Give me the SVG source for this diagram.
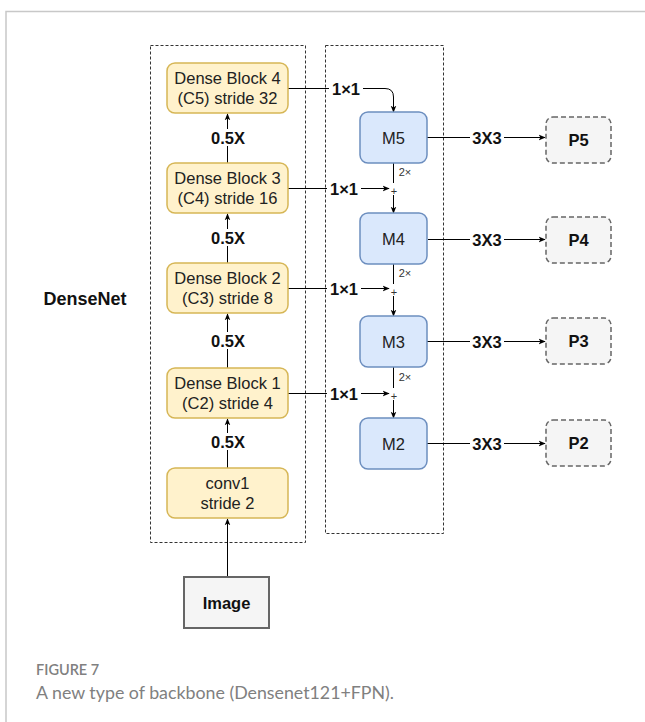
<svg xmlns="http://www.w3.org/2000/svg" width="645" height="722" viewBox="0 0 645 722">
  <defs>
    <marker id="arr" viewBox="0 0 10 10" refX="9" refY="5" markerWidth="7" markerHeight="7" orient="auto" markerUnits="userSpaceOnUse">
      <path d="M0,1 L10,5 L0,9 L2.5,5 Z" fill="#000"/>
    </marker>
  </defs>
  <style>
    .frame { stroke: #c8c8c8; stroke-width: 1.5; fill: none; }
    .group { fill: none; stroke: #333; stroke-width: 1; stroke-dasharray: 3 2; }
    .dense { fill: #fff2cc; stroke: #d6b656; stroke-width: 1.5; }
    .fpn { fill: #dae8fc; stroke: #6c8ebf; stroke-width: 1.5; }
    .out { fill: #f5f5f5; stroke: #666; stroke-width: 1.5; stroke-dasharray: 5 3; }
    .img { fill: #f5f5f5; stroke: #666; stroke-width: 2; }
    .t { font-family: "Liberation Sans", Arial, sans-serif; font-size: 16.5px; fill: #222; text-anchor: middle; }
    .b { font-family: "Liberation Sans", Arial, sans-serif; font-size: 16.5px; font-weight: bold; fill: #111; text-anchor: middle; }
    .s { font-family: "Liberation Sans", Arial, sans-serif; font-size: 11px; fill: #333; text-anchor: middle; }
    .edge { stroke: #000; stroke-width: 1; fill: none; }
    .lbl { fill: #fff; }
    .cap1 { font-family: Lato, "Open Sans", sans-serif; font-size: 14.5px; font-weight: 600; fill: #808080; }
    .cap2 { font-family: Lato, "Open Sans", sans-serif; font-size: 17.8px; fill: #808080; }
  </style>

  <!-- page frame -->
  <path class="frame" d="M645,11.5 H6 V722"/>

  <!-- dashed grouping boxes -->
  <rect class="group" x="150.5" y="45.5" width="155" height="497"/>
  <rect class="group" x="325.5" y="45.5" width="118" height="488"/>

  <text class="b" x="85" y="305" style="font-size:18px">DenseNet</text>

  <!-- connectors -->
  <g id="connectors">
    <!-- backbone up path -->
    <line class="edge" x1="227.5" y1="577" x2="227.5" y2="519" marker-end="url(#arr)"/>
    <line class="edge" x1="227.5" y1="468" x2="227.5" y2="419" marker-end="url(#arr)"/>
    <line class="edge" x1="227.5" y1="368" x2="227.5" y2="314" marker-end="url(#arr)"/>
    <line class="edge" x1="227.5" y1="263" x2="227.5" y2="214" marker-end="url(#arr)"/>
    <line class="edge" x1="227.5" y1="163" x2="227.5" y2="114" marker-end="url(#arr)"/>

    <!-- lateral 1x1 -->
    <path class="edge" d="M288,88.5 H385 Q393.5,88.5 393.5,97 V112" marker-end="url(#arr)"/>
    <line class="edge" x1="288" y1="188.5" x2="389" y2="188.5" marker-end="url(#arr)"/>
    <line class="edge" x1="288" y1="288.5" x2="389" y2="288.5" marker-end="url(#arr)"/>
    <line class="edge" x1="288" y1="393.5" x2="389" y2="393.5" marker-end="url(#arr)"/>

    <!-- top-down 2x upsample -->
    <line class="edge" x1="393.5" y1="163" x2="393.5" y2="183"/>
    <line class="edge" x1="393.5" y1="195" x2="393.5" y2="213" marker-end="url(#arr)"/>
    <line class="edge" x1="393.5" y1="264" x2="393.5" y2="284"/>
    <line class="edge" x1="393.5" y1="296" x2="393.5" y2="316" marker-end="url(#arr)"/>
    <line class="edge" x1="393.5" y1="367" x2="393.5" y2="388"/>
    <line class="edge" x1="393.5" y1="400" x2="393.5" y2="418" marker-end="url(#arr)"/>

    <!-- 3x3 outputs -->
    <line class="edge" x1="427" y1="137.5" x2="545" y2="137.5" marker-end="url(#arr)"/>
    <line class="edge" x1="428" y1="239.5" x2="545" y2="239.5" marker-end="url(#arr)"/>
    <line class="edge" x1="427" y1="341.5" x2="545" y2="341.5" marker-end="url(#arr)"/>
    <line class="edge" x1="427" y1="443.5" x2="545" y2="443.5" marker-end="url(#arr)"/>

    <!-- edge labels -->
    <rect class="lbl" x="210" y="129" width="36" height="17"/>
    <text class="b" x="228" y="143.5">0.5X</text>
    <rect class="lbl" x="210" y="229" width="36" height="17"/>
    <text class="b" x="228" y="243.5">0.5X</text>
    <rect class="lbl" x="210" y="332" width="36" height="17"/>
    <text class="b" x="228" y="346.5">0.5X</text>
    <rect class="lbl" x="210" y="433" width="36" height="17"/>
    <text class="b" x="228" y="447.5">0.5X</text>

    <rect class="lbl" x="329" y="80" width="34" height="17"/>
    <text class="b" x="346" y="94.5">1×1</text>
    <rect class="lbl" x="327" y="180" width="34" height="17"/>
    <text class="b" x="344" y="194.5">1×1</text>
    <rect class="lbl" x="327" y="280" width="34" height="17"/>
    <text class="b" x="344" y="294.5">1×1</text>
    <rect class="lbl" x="327" y="385" width="34" height="17"/>
    <text class="b" x="344" y="399.5">1×1</text>

    <rect class="lbl" x="470" y="129" width="34" height="17"/>
    <text class="b" x="487" y="143.5">3X3</text>
    <rect class="lbl" x="470" y="231" width="34" height="17"/>
    <text class="b" x="487" y="245.5">3X3</text>
    <rect class="lbl" x="470" y="333" width="34" height="17"/>
    <text class="b" x="487" y="347.5">3X3</text>
    <rect class="lbl" x="470" y="435" width="34" height="17"/>
    <text class="b" x="487" y="449.5">3X3</text>

    <text class="s" x="405" y="176">2×</text>
    <text class="s" x="405" y="277">2×</text>
    <text class="s" x="405" y="381">2×</text>
    <text class="s" x="394" y="195">+</text>
    <text class="s" x="394" y="296">+</text>
    <text class="s" x="394" y="400">+</text>
  </g>

  <!-- backbone nodes -->
  <g id="db4"><rect class="dense" x="167" y="63" width="121" height="50" rx="8"/>
    <text class="t" x="227.5" y="84">Dense Block 4</text><text class="t" x="227.5" y="104">(C5) stride 32</text></g>
  <g id="db3"><rect class="dense" x="167" y="163" width="121" height="50" rx="8"/>
    <text class="t" x="227.5" y="184">Dense Block 3</text><text class="t" x="227.5" y="204">(C4) stride 16</text></g>
  <g id="db2"><rect class="dense" x="167" y="263" width="121" height="50" rx="8"/>
    <text class="t" x="227.5" y="284">Dense Block 2</text><text class="t" x="227.5" y="304">(C3) stride 8</text></g>
  <g id="db1"><rect class="dense" x="167" y="368" width="121" height="50" rx="8"/>
    <text class="t" x="227.5" y="389">Dense Block 1</text><text class="t" x="227.5" y="409">(C2) stride 4</text></g>
  <g id="conv1"><rect class="dense" x="167" y="468" width="121" height="50" rx="8"/>
    <text class="t" x="227.5" y="489">conv1</text><text class="t" x="227.5" y="509">stride 2</text></g>
  <g id="image"><rect class="img" x="184" y="577" width="85" height="51"/>
    <text class="b" x="226.5" y="608.5">Image</text></g>

  <!-- FPN merge nodes -->
  <g id="m5"><rect class="fpn" x="360" y="112" width="67" height="51" rx="8"/><text class="t" x="393.5" y="143.5">M5</text></g>
  <g id="m4"><rect class="fpn" x="360" y="213" width="67" height="51" rx="8"/><text class="t" x="393.5" y="244.5">M4</text></g>
  <g id="m3"><rect class="fpn" x="360" y="316" width="67" height="51" rx="8"/><text class="t" x="393.5" y="347.5">M3</text></g>
  <g id="m2"><rect class="fpn" x="360" y="418" width="67" height="51" rx="8"/><text class="t" x="393.5" y="449.5">M2</text></g>

  <!-- outputs -->
  <g id="p5"><rect class="out" x="546" y="117" width="65" height="46" rx="7"/><text class="b" x="578.5" y="145.5">P5</text></g>
  <g id="p4"><rect class="out" x="546" y="217" width="65" height="46" rx="7"/><text class="b" x="578.5" y="245.5">P4</text></g>
  <g id="p3"><rect class="out" x="546" y="318" width="65" height="46" rx="7"/><text class="b" x="578.5" y="346.5">P3</text></g>
  <g id="p2"><rect class="out" x="546" y="420" width="65" height="46" rx="7"/><text class="b" x="578.5" y="448.5">P2</text></g>

  <!-- caption -->
  <text class="cap1" x="36" y="675">FIGURE 7</text>
  <text class="cap2" x="36" y="699">A new type of backbone (Densenet121+FPN).</text>
</svg>
